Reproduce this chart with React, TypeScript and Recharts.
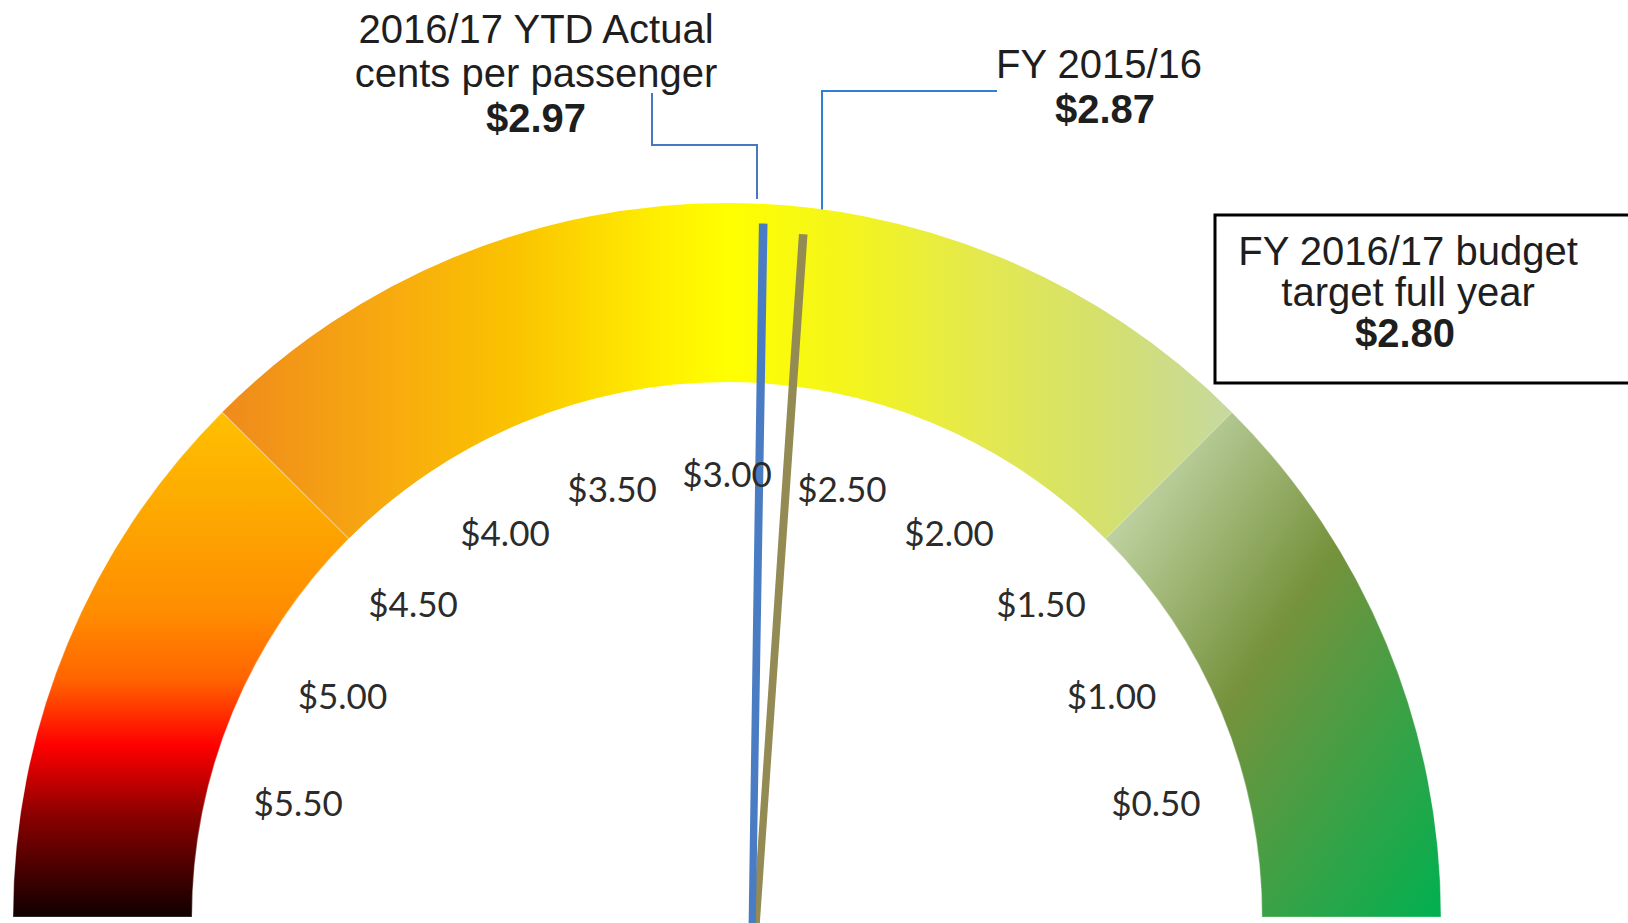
import { PieChart, Pie, Cell } from "recharts";

const W = 1628;
const H = 923;

// gauge geometry (ring centre sits on the bottom edge)
const CX = 727;
const CY = 917;
const R_IN = 535;
const R_OUT = 714;
const LABEL_R = 444;

// needles pivot a little off the ring centre, like the original overlay pie
const NX = 751;
const NY = 1000;

const GAUGE_MAX = 6;

// bands from $0 (right) round to $6 (left)
const bandNames = ["green", "lime", "amber", "red"];
const bandValues = [1.5, 1.5, 1.5, 1.5];

const tickValues = [0.5, 1.0, 1.5, 2.0, 2.5, 3.0, 3.5, 4.0, 4.5, 5.0, 5.5];
const tickLabels = ["$0.50", "$1.00", "$1.50", "$2.00", "$2.50", "$3.00", "$3.50", "$4.00", "$4.50", "$5.00", "$5.50"];

const actualValue = 2.97;
const lastYearValue = 2.87;
const budgetValue = 2.8;

const NEEDLE = 0.004;

const bandData = bandNames.map((name, i) => ({ name, value: bandValues[i] }));

const HALF = 0.25;
const tickData = [
  { label: "", value: tickValues[0] - HALF },
  ...tickValues.map((t, i) => ({ label: tickLabels[i], value: HALF * 2 })),
  { label: "", value: GAUGE_MAX - tickValues[tickValues.length - 1] - HALF },
];

function needleData(v: number) {
  return [
    { name: "before", value: v - NEEDLE / 2 },
    { name: "needle", value: NEEDLE },
    { name: "after", value: GAUGE_MAX - v - NEEDLE / 2 },
  ];
}

const TEXT = "'Liberation Sans', Arial, sans-serif";
const TICK_FONT = "Lato, 'Open Sans', sans-serif";

function renderTick(p: any) {
  const lbl = p?.payload?.payload?.label ?? p?.payload?.label ?? p?.label;
  if (!lbl) return null;
  const rad = (p.midAngle * Math.PI) / 180;
  const x = p.cx + LABEL_R * Math.cos(rad);
  const y = p.cy - LABEL_R * Math.sin(rad);
  return (
    <text
      key={lbl}
      x={x}
      y={y}
      textAnchor="middle"
      dominantBaseline="central"
      fontFamily={TICK_FONT}
      fontSize={35}
      fill="#2b2b2b"
    >
      {lbl}
    </text>
  );
}

function Needle({ value, color, radius }: { value: number; color: string; radius: number }) {
  return (
    <Pie
      data={needleData(value)}
      dataKey="value"
      cx={NX}
      cy={NY}
      startAngle={0}
      endAngle={180}
      innerRadius={0}
      outerRadius={radius}
      isAnimationActive={false}
      stroke="none"
    >
      {needleData(value).map((d) => (
        <Cell
          key={d.name}
          fill={d.name === "needle" ? color : "transparent"}
          stroke={d.name === "needle" ? color : "none"}
          strokeWidth={d.name === "needle" ? 7 : 0}
          strokeLinejoin="miter"
        />
      ))}
    </Pie>
  );
}

export default function App() {
  return (
    <div
      style={{
        position: "absolute",
        left: 0,
        top: 0,
        width: W,
        height: H,
        overflow: "hidden",
        background: "#fff",
      }}
    >
      <PieChart width={W} height={H} margin={{ top: 0, right: 0, bottom: 0, left: 0 }}>
        <defs>
          <linearGradient id="g-green" gradientUnits="userSpaceOnUse" x1={1127} y1={504} x2={1534} y2={779}>
            <stop offset="0" stopColor="#bfd2a2" />
            <stop offset="0.4" stopColor="#76923c" />
            <stop offset="1" stopColor="#00b050" />
          </linearGradient>
          <linearGradient id="g-lime" gradientUnits="userSpaceOnUse" x1={727} y1={0} x2={1232} y2={0}>
            <stop offset="0" stopColor="#ffff00" />
            <stop offset="0.25" stopColor="#f3f41e" />
            <stop offset="0.5" stopColor="#e4e94e" />
            <stop offset="0.75" stopColor="#d4e06e" />
            <stop offset="1" stopColor="#c6d9a0" />
          </linearGradient>
          <linearGradient id="g-amber" gradientUnits="userSpaceOnUse" x1={222} y1={0} x2={727} y2={0}>
            <stop offset="0" stopColor="#ef8a1c" />
            <stop offset="0.35" stopColor="#f8ac0e" />
            <stop offset="0.57" stopColor="#fac200" />
            <stop offset="0.87" stopColor="#ffef00" />
            <stop offset="1" stopColor="#ffff00" />
          </linearGradient>
          <linearGradient id="g-red" gradientUnits="userSpaceOnUse" x1={0} y1={412} x2={0} y2={917}>
            <stop offset="0" stopColor="#ffc000" />
            <stop offset="0.2" stopColor="#fda800" />
            <stop offset="0.4" stopColor="#ff8c00" />
            <stop offset="0.53" stopColor="#ff6400" />
            <stop offset="0.66" stopColor="#ff0000" />
            <stop offset="0.8" stopColor="#8a0000" />
            <stop offset="1" stopColor="#100000" />
          </linearGradient>
        </defs>

        <Pie
          data={bandData}
          dataKey="value"
          cx={CX}
          cy={CY}
          startAngle={0}
          endAngle={180}
          innerRadius={R_IN}
          outerRadius={R_OUT}
          isAnimationActive={false}
          strokeWidth={1.2}
        >
          {bandData.map((d) => {
            // faint seam only where colours change sharply (45° and 135°)
            const edge = d.name === "green" || d.name === "red";
            return (
              <Cell
                key={d.name}
                fill={`url(#g-${d.name})`}
                stroke={edge ? "#ffffff" : "none"}
                strokeOpacity={0.3}
              />
            );
          })}
        </Pie>

        <Pie
          data={tickData}
          dataKey="value"
          cx={CX}
          cy={CY}
          startAngle={0}
          endAngle={180}
          innerRadius={0}
          outerRadius={R_IN - 10}
          isAnimationActive={false}
          fill="transparent"
          stroke="none"
          label={renderTick}
          labelLine={false}
        />

        <Needle value={lastYearValue} color="#948a54" radius={764} />
        <Needle value={actualValue} color="#4a7cc4" radius={773} />

        {/* callout: YTD actual */}
        <path d="M652 93 V145 H757 V199" fill="none" stroke="#4a78c0" strokeWidth={2} />
        <text textAnchor="middle" fontFamily={TEXT} fontSize={40} fill="#1e1e1e">
          <tspan x={536} y={43}>2016/17 YTD Actual</tspan>
          <tspan x={536} y={87}>cents per passenger</tspan>
          <tspan x={536} y={132} fontWeight="bold">${actualValue.toFixed(2)}</tspan>
        </text>

        {/* callout: last year */}
        <path d="M997 91 H822 V210" fill="none" stroke="#2f80d0" strokeWidth={2} />
        <text textAnchor="middle" fontFamily={TEXT} fontSize={40} fill="#1e1e1e">
          <tspan x={1099} y={78}>FY 2015/16</tspan>
          <tspan x={1105} y={123} fontWeight="bold">${lastYearValue.toFixed(2)}</tspan>
        </text>

        {/* budget box */}
        <rect x={1215} y={215} width={440} height={168} fill="#fff" stroke="#000" strokeWidth={3} />
        <text textAnchor="middle" fontFamily={TEXT} fontSize={40} fill="#1e1e1e">
          <tspan x={1408} y={265}>FY 2016/17 budget</tspan>
          <tspan x={1408} y={306}>target full year</tspan>
          <tspan x={1405} y={347} fontWeight="bold">${budgetValue.toFixed(2)}</tspan>
        </text>
      </PieChart>
    </div>
  );
}
